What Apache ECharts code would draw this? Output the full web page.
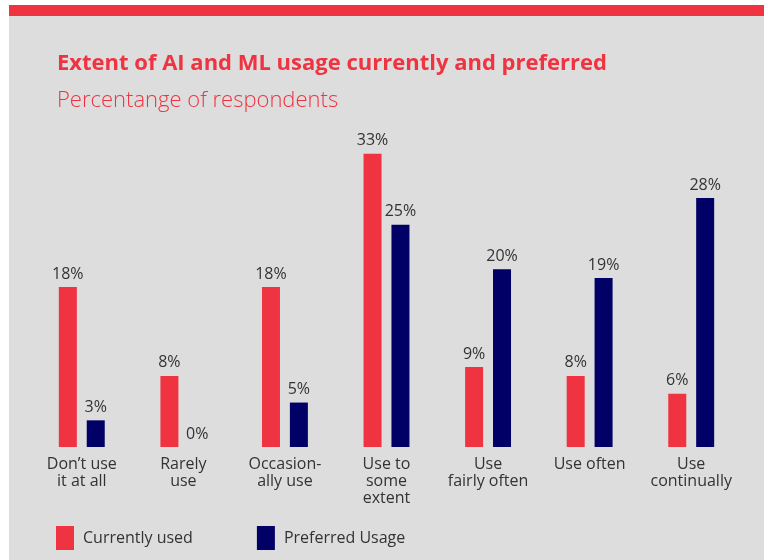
<!DOCTYPE html>
<html>
<head>
<meta charset="utf-8">
<script src="https://cdn.jsdelivr.net/npm/echarts@6/dist/echarts.min.js"></script>
<style>html,body{margin:0;padding:0;background:#fff}#c{width:768px;height:560px}</style>
</head>
<body>
<div id="c"></div>
<script>
const categories = ["Don\u2019t use\nit at all", "Rarely\nuse", "Occasion-\nally use", "Use to\nsome\nextent", "Use\nfairly often", "Use often", "Use\ncontinually"];
const currentlyUsed = [18, 8, 18, 33, 9, 8, 6];
const preferredUsage = [3, 0, 5, 25, 20, 19, 28];
const seriesNames = ["Currently used", "Preferred Usage"];

const chart = echarts.init(document.getElementById('c'), null, {renderer: 'canvas'});
const labelStyle = {show: true, position: 'top', distance: 5, formatter: '{c}%', color: '#333', fontSize: 16, fontFamily: 'Open Sans'};
chart.setOption({
  backgroundColor: '#ffffff',
  animation: false,
  graphic: [
    {type: 'rect', left: 9, top: 5, z: -10, shape: {width: 755, height: 555}, style: {fill: '#dddddd'}},
    {type: 'rect', left: 9, top: 5, z: -9, shape: {width: 755, height: 11}, style: {fill: '#ef3340'}}
  ],
  title: [
    {text: 'Extent of AI and ML usage currently and preferred', left: 52, top: 48,
     textStyle: {color: '#ef3340', fontSize: 22, fontWeight: 'bold', fontFamily: '"Open Sans"'}},
    {text: 'Percentange of respondents', left: 52, top: 85,
     textStyle: {color: '#ef3340', fontSize: 22, fontWeight: 300, fontFamily: '"Open Sans"'}}
  ],
  legend: {
    left: 51, top: 521, itemWidth: 18, itemHeight: 24, itemGap: 64, icon: 'rect',
    textStyle: {color: '#333', fontSize: 16, fontFamily: 'Open Sans', padding: [0, 0, 0, 4]},
    data: seriesNames
  },
  grid: {left: 31, right: 26, top: 127, bottom: 113, containLabel: false},
  xAxis: {
    type: 'category', data: categories,
    axisLine: {show: false}, axisTick: {show: false},
    axisLabel: {color: '#333', fontSize: 16, lineHeight: 17, margin: 9, fontFamily: 'Open Sans', interval: 0}
  },
  yAxis: {type: 'value', min: 0, max: 36, show: false, splitLine: {show: false}},
  series: [
    {name: seriesNames[0], type: 'bar', data: currentlyUsed, barWidth: 18, barGap: '55%', itemStyle: {color: '#ef3340'}, label: labelStyle},
    {name: seriesNames[1], type: 'bar', data: preferredUsage, barWidth: 18, itemStyle: {color: '#000066'}, label: labelStyle}
  ]
});
</script>
</body>
</html>
